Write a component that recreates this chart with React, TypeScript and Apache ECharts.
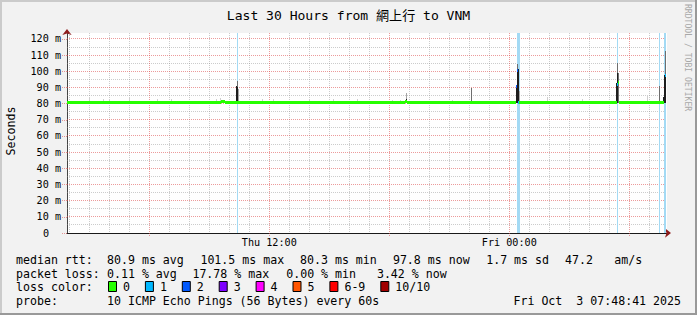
import React, { useEffect, useRef } from 'react';
import * as echarts from 'echarts';

// ---------- data ----------
const TITLE = 'Last 30 Hours from 網上行 to VNM';
const Y_UNIT_LABEL = 'Seconds';
const WATERMARK = 'RRDTOOL / TOBI OETIKER';

// x axis: hours since Thu 00:00
const X_MIN = 1.885;
const X_MAX = 31.885;
const STEP = 0.05; // one rrd step (3 minutes)
const Y_MIN = 0;
const Y_MAX = 123.7;

const Y_LABEL_VALUES = [0, 10, 20, 30, 40, 50, 60, 70, 80, 90, 100, 110, 120];
const Y_MAJOR = [10, 20, 30, 40, 50, 60, 70, 80, 90, 100, 110, 120];
const Y_MINOR = [5, 15, 25, 35, 45, 55, 65, 75, 85, 95, 105, 115];
const X_MINOR = [2, 3, 4, 5, 7, 8, 9, 10, 11, 13, 14, 15, 16, 17, 19, 20, 21, 22, 23, 25, 26, 27, 28, 29, 31];
const X_MAJOR = [6, 12, 18, 24, 30];
const X_LABEL_VALUES = [12, 24];
const X_LABEL_TEXT = ['Thu 12:00', 'Fri 00:00'];

const LOSS_COLORS = ['#26ff00', '#00b8ff', '#0059ff', '#7e00ff', '#ff00ff', '#ff5500', '#ff0000', '#a10000'];
const LOSS_LABELS = ['0', '1', '2', '3', '4', '5', '6-9', '10/10'];
const SMOKE_SHADES = ['#cfcfcf', '#a6a6a6', '#6e6e6e', '#1e1e1e'];

// loss background bars: [startHour, endHour]
const LOSS_BARS = [
  [10.385, 10.435],
  [24.385, 24.535],
  [29.385, 29.435],
  [31.5, 31.55],
  [31.735, 31.835],
];

// smoke: [hour, lowMs, highMs, shadeIndex]
const SMOKE = [
  [3.0, 80.5, 84.3, 0],
  [3.67, 80.5, 82.7, 0],
  [4.0, 80.5, 82.7, 0],
  [5.0, 80.5, 84.3, 0],
  [6.4, 80.5, 82.7, 0],
  [7.07, 80.5, 83.0, 0],
  [9.33, 80.5, 82.9, 0],
  [9.53, 80.5, 83.5, 0],
  [10.335, 80.5, 91.0, 3],
  [10.385, 80.5, 94.2, 2],
  [10.385, 80.5, 90.5, 3],
  [10.435, 80.5, 89.2, 1],
  [11.65, 80.5, 83.0, 0],
  [12.2, 80.5, 83.0, 0],
  [14.0, 80.5, 82.5, 0],
  [15.17, 80.5, 83.0, 0],
  [16.37, 80.5, 83.0, 0],
  [18.135, 80.5, 82.5, 0],
  [18.535, 80.5, 82.5, 0],
  [18.835, 80.5, 86.8, 1],
  [18.835, 80.5, 83.0, 3],
  [21.15, 80.5, 82.5, 0],
  [22.105, 80.5, 89.5, 2],
  [24.335, 80.5, 90.9, 3],
  [24.385, 80.5, 104.5, 2],
  [24.385, 80.5, 101.4, 3],
  [24.435, 80.5, 101.4, 3],
  [24.485, 80.5, 88.0, 1],
  [25.9, 80.5, 84.1, 0],
  [27.62, 80.5, 82.7, 0],
  [29.335, 80.5, 92.6, 3],
  [29.385, 80.5, 105.3, 2],
  [29.385, 80.5, 98.8, 3],
  [29.435, 80.5, 98.8, 2],
  [30.9, 80.5, 85.3, 0],
  [31.5, 80.5, 91.0, 2],
  [31.685, 80.5, 84.3, 3],
  [31.735, 80.5, 97.7, 3],
  [31.785, 80.5, 112.7, 2],
  [31.785, 80.5, 97.7, 3],
];

// median: [startHour, endHour, ms, lossIndex]
const MEDIAN = [
  [1.885, 2.1, 80.9, 0],
  [2.1, 2.25, 80.5, 0],
  [2.25, 2.75, 80.9, 0],
  [2.75, 3.0, 80.5, 0],
  [3.0, 4.9, 80.9, 0],
  [4.9, 5.05, 80.5, 0],
  [5.05, 7.5, 80.9, 0],
  [7.5, 7.7, 80.5, 0],
  [7.7, 9.6, 80.9, 0],
  [9.6, 9.8, 81.3, 0],
  [9.8, 12.9, 80.9, 0],
  [12.9, 13.2, 80.5, 0],
  [13.2, 16.0, 80.9, 0],
  [16.0, 16.3, 80.5, 0],
  [16.3, 18.8, 80.9, 0],
  [18.8, 18.9, 81.4, 0],
  [18.9, 21.4, 80.9, 0],
  [21.4, 21.6, 80.5, 0],
  [21.6, 24.335, 80.9, 0],
  [24.335, 24.385, 90.9, 2],
  [24.385, 24.435, 100.8, 2],
  [24.435, 24.485, 80.9, 1],
  [24.485, 26.5, 80.9, 0],
  [26.5, 26.8, 80.5, 0],
  [26.8, 29.385, 80.9, 0],
  [29.385, 29.435, 92.0, 1],
  [29.435, 29.485, 93.2, 0],
  [29.485, 31.735, 80.9, 0],
  [31.785, 31.835, 97.3, 1],
];

const RTT_LABEL = 'median rtt:';
const RTT_STATS = ['80.9 ms avg', '101.5 ms max', '80.3 ms min', '97.8 ms now', '1.7 ms sd', '47.2', 'am/s'];
const LOSS_LABEL = 'packet loss:';
const LOSS_STATS = ['0.11 % avg', '17.78 % max', '0.00 % min', '3.42 % now'];
const LOSS_COLOR_LABEL = 'loss color:';
const PROBE_LABEL = 'probe:';
const PROBE_TEXT = '10 ICMP Echo Pings (56 Bytes) every 60s';
const DATE_TEXT = 'Fri Oct  3 07:48:41 2025';

// ---------- styles ----------
const MONO = '"DejaVu Sans Mono", "Noto Sans CJK TC", monospace';
const BG = '#f2f2f2';
const MINOR_GRID = 'rgba(143,143,143,0.46)';
const MAJOR_GRID = 'rgba(222,80,80,0.57)';
const LOSS_BG = '#a3daf4';
const ARROW = '#8e1c1c';
const LEG_FONT = `11.6px ${MONO}`;

export default function App() {
  const ref = useRef<HTMLDivElement>(null);

  useEffect(() => {
    const chart = echarts.init(ref.current!, null, { renderer: 'svg' });

    const crisp = (v: number) => Math.round(v) + 0.5;

    const vLine = (color: string) => (params: any, api: any) => {
      const v = api.value(0);
      const t = api.coord([v, Y_MAX]);
      const b = api.coord([v, Y_MIN]);
      const x = crisp(t[0] - 0.5);
      return {
        type: 'line',
        shape: { x1: x, y1: t[1], x2: x, y2: b[1] },
        style: { stroke: color, lineWidth: 1, lineDash: [1, 1] },
      };
    };
    const hLine = (color: string) => (params: any, api: any) => {
      const v = api.value(1);
      const l = api.coord([X_MIN, v]);
      const r = api.coord([X_MAX, v]);
      const y = crisp(l[1] - 0.5);
      return {
        type: 'line',
        shape: { x1: l[0], y1: y, x2: r[0], y2: y },
        style: { stroke: color, lineWidth: 1, lineDash: [1, 1] },
      };
    };

    const legendTexts: any[] = [];
    const txt = (text: string, x: number, y: number, extra: any = {}) =>
      legendTexts.push({
        type: 'text',
        x,
        y,
        silent: true,
        style: { text, font: LEG_FONT, fill: '#000', align: 'left', verticalAlign: 'middle', ...extra },
      });

    const ROW = [259.5, 273.5, 287.2, 301];
    const VAL_X = 107;
    txt(RTT_LABEL, 16, ROW[0]);
    const rttX = [107, 200.4, 300, 392.9, 486.2, 565, 614.2];
    RTT_STATS.forEach((s, i) => txt(s, rttX[i], ROW[0]));
    txt(LOSS_LABEL, 16, ROW[1]);
    const lossX = [107, 192.4, 286.2, 376.9];
    LOSS_STATS.forEach((s, i) => txt(s, lossX[i], ROW[1]));
    txt(LOSS_COLOR_LABEL, 16, ROW[2]);
    let sx = 108;
    LOSS_LABELS.forEach((lab, i) => {
      legendTexts.push({
        type: 'rect',
        silent: true,
        shape: { x: sx + 0.5, y: 281.5, width: 8, height: 10 },
        style: { fill: LOSS_COLORS[i], stroke: '#000', lineWidth: 1 },
      });
      txt(lab, sx + 15, ROW[2]);
      sx = sx + 15 + lab.length * 7 + 14.9;
    });
    txt(PROBE_LABEL, 16, ROW[3]);
    txt(PROBE_TEXT, VAL_X, ROW[3]);
    txt(DATE_TEXT, 681, ROW[3], { align: 'right' });

    const option: any = {
      animation: false,
      backgroundColor: BG,
      grid: {
        left: 67,
        right: 30,
        top: 33,
        bottom: 82,
        show: true,
        backgroundColor: '#ffffff',
        borderWidth: 0,
        containLabel: false,
        outerBoundsMode: 'none',
      },
      xAxis: [
        {
          type: 'value',
          min: X_MIN,
          max: X_MAX,
          axisLine: { show: true, onZero: false, lineStyle: { color: '#1a1a1a', width: 1 } },
          axisTick: {
            show: true,
            customValues: X_MAJOR,
            length: 4,
            lineStyle: { color: MAJOR_GRID, type: [1, 1] },
          },
          axisLabel: {
            show: true,
            customValues: X_LABEL_VALUES,
            formatter: (v: number) => {
              const i = X_LABEL_VALUES.indexOf(v);
              return i >= 0 ? X_LABEL_TEXT[i] : '';
            },
            fontFamily: MONO,
            fontSize: 10.15,
            color: '#000',
            margin: 4,
          },
          splitLine: { show: false },
        },
        {
          type: 'value',
          min: X_MIN,
          max: X_MAX,
          position: 'bottom',
          axisLine: {
            show: true,
            onZero: false,
            symbol: ['none', 'arrow'],
            symbolSize: [7, 6],
            symbolOffset: [0, 4],
            lineStyle: { color: ARROW, width: 0 },
          },
          axisTick: { show: false },
          axisLabel: { show: false },
          splitLine: { show: false },
        },
      ],
      yAxis: [
        {
          type: 'value',
          min: Y_MIN,
          max: Y_MAX,
          axisLine: { show: true, onZero: false, lineStyle: { color: '#444', width: 1 } },
          axisTick: {
            show: true,
            customValues: Y_LABEL_VALUES,
            length: 5,
            lineStyle: { color: MAJOR_GRID, type: [1, 1] },
          },
          axisLabel: {
            show: true,
            customValues: Y_LABEL_VALUES,
            formatter: (v: number) => (v === 0 ? '{z|0}' : `${v} m`),
            fontFamily: MONO,
            fontSize: 10.15,
            color: '#000',
            margin: 6,
            rich: {
              z: { fontFamily: MONO, fontSize: 10.15, color: '#000', padding: [0, 12, 0, 0] },
            },
          },
          splitLine: { show: false },
        },
        {
          type: 'value',
          min: Y_MIN,
          max: Y_MAX,
          position: 'left',
          axisLine: {
            show: true,
            onZero: false,
            symbol: ['none', 'arrow'],
            symbolSize: [7, 6],
            symbolOffset: [0, 4],
            lineStyle: { color: ARROW, width: 0 },
          },
          axisTick: { show: false },
          axisLabel: { show: false },
          splitLine: { show: false },
        },
      ],
      graphic: [
        { type: 'rect', silent: true, shape: { x: 0, y: 0, width: 697, height: 2 }, style: { fill: '#cbcbcb' } },
        { type: 'rect', silent: true, shape: { x: 0, y: 0, width: 2, height: 315 }, style: { fill: '#cbcbcb' } },
        { type: 'rect', silent: true, shape: { x: 0, y: 313, width: 697, height: 2 }, style: { fill: '#999999' } },
        { type: 'rect', silent: true, shape: { x: 695, y: 0, width: 2, height: 315 }, style: { fill: '#999999' } },
        {
          type: 'text',
          silent: true,
          x: 348.5,
          y: 15,
          style: { text: TITLE, font: `13.05px ${MONO}`, fill: '#000', align: 'center', verticalAlign: 'middle' },
        },
        {
          type: 'text',
          silent: true,
          x: 11,
          y: 131,
          rotation: Math.PI / 2,
          style: { text: Y_UNIT_LABEL, font: LEG_FONT, fill: '#000', align: 'center', verticalAlign: 'middle' },
        },
        {
          type: 'text',
          silent: true,
          x: 688,
          y: 4,
          rotation: -Math.PI / 2,
          style: { text: WATERMARK, font: `8.1px ${MONO}`, fill: '#a8a8a8', align: 'left', verticalAlign: 'middle' },
        },
        ...legendTexts,
      ],
      series: [
        {
          type: 'custom',
          name: 'gridMinorX',
          silent: true,
          clip: true,
          data: X_MINOR.map((h) => [h, 0]),
          renderItem: vLine(MINOR_GRID),
        },
        {
          type: 'custom',
          name: 'gridMinorY',
          silent: true,
          clip: true,
          data: Y_MINOR.map((v) => [X_MIN, v]),
          renderItem: hLine(MINOR_GRID),
        },
        {
          type: 'custom',
          name: 'gridMajorY',
          silent: true,
          clip: true,
          data: Y_MAJOR.map((v) => [X_MIN, v]),
          renderItem: hLine(MAJOR_GRID),
        },
        {
          type: 'custom',
          name: 'gridMajorX',
          silent: true,
          clip: true,
          data: X_MAJOR.map((h) => [h, 0]),
          renderItem: vLine(MAJOR_GRID),
        },
        {
          type: 'custom',
          name: 'lossBars',
          silent: true,
          clip: true,
          data: LOSS_BARS,
          renderItem: (params: any, api: any) => {
            const a = api.coord([api.value(0), Y_MIN]);
            const b = api.coord([api.value(1), Y_MAX]);
            const x0 = Math.round(a[0]);
            const x1 = Math.round(b[0]);
            return {
              type: 'rect',
              shape: { x: x0, y: b[1], width: Math.max(1, x1 - x0), height: a[1] - b[1] },
              style: { fill: LOSS_BG },
            };
          },
        },
        {
          type: 'custom',
          name: 'smoke',
          silent: true,
          clip: true,
          data: SMOKE,
          renderItem: (params: any, api: any) => {
            const x = api.value(0);
            const a = api.coord([x, api.value(1)]);
            const b = api.coord([x + STEP, api.value(2)]);
            const x0 = Math.round(a[0]);
            const x1 = Math.round(b[0]);
            const y0 = Math.round(b[1]);
            const y1 = Math.round(a[1]);
            return {
              type: 'rect',
              shape: { x: x0, y: y0, width: Math.max(1, x1 - x0), height: y1 - y0 },
              style: { fill: SMOKE_SHADES[api.value(3)] },
            };
          },
        },
        {
          type: 'custom',
          name: 'median',
          silent: true,
          clip: true,
          data: MEDIAN,
          renderItem: (params: any, api: any) => {
            const a = api.coord([api.value(0), api.value(2)]);
            const b = api.coord([api.value(1), api.value(2)]);
            const x0 = Math.round(a[0]);
            const x1 = Math.round(b[0]);
            const y = Math.round(a[1] - 1.5);
            return {
              type: 'rect',
              shape: { x: x0, y, width: Math.max(1, x1 - x0), height: 3 },
              style: { fill: LOSS_COLORS[api.value(3)] },
            };
          },
        },
      ],
    };

    chart.setOption(option);
    return () => chart.dispose();
  }, []);

  return <div ref={ref} style={{ position: 'fixed', left: 0, top: 0, width: 697, height: 315 }} />;
}
